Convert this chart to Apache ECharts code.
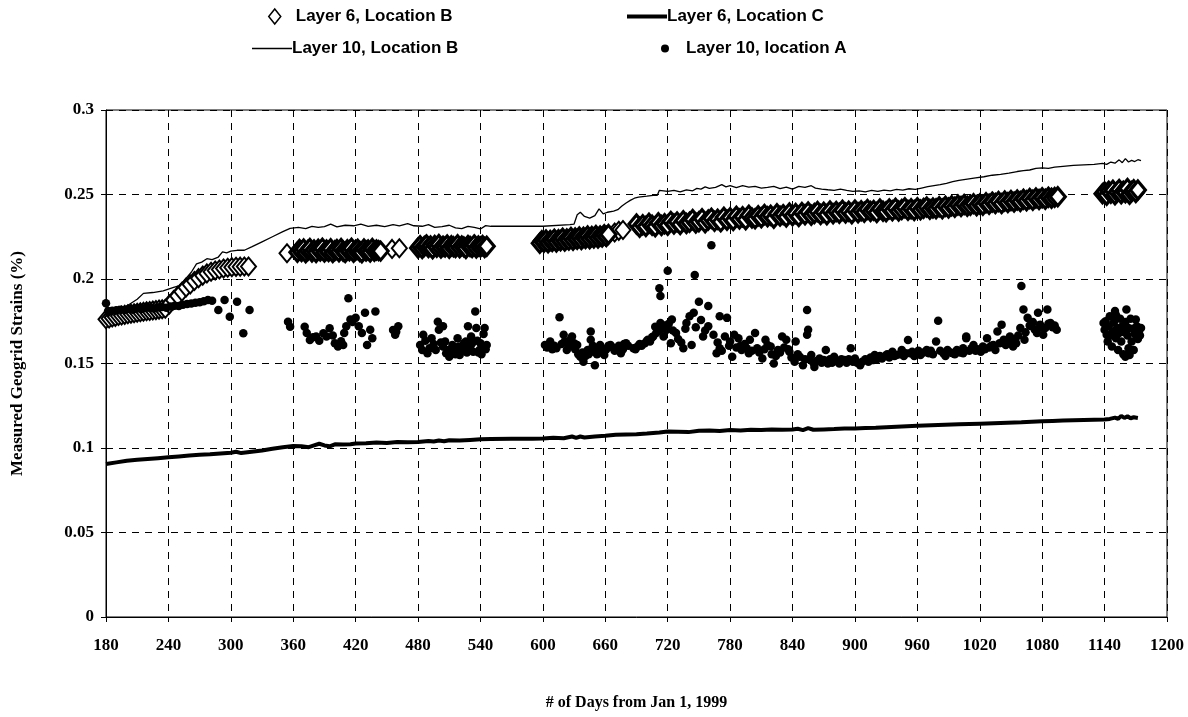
<!DOCTYPE html>
<html>
<head>
<meta charset="utf-8">
<script src="https://cdn.jsdelivr.net/npm/echarts@6/dist/echarts.min.js"></script>
<style>
html,body{margin:0;padding:0;background:#fff;}
#chart{width:1188px;height:717px;}
</style>
</head>
<body>
<div id="chart"></div>
<script>
// ---- tick labels / axis ----
const xTicks = [180,240,300,360,420,480,540,600,660,720,780,840,900,960,1020,1080,1140,1200];
const yTicks = [0,0.05,0.1,0.15,0.2,0.25,0.3];

// ---- Layer 10, Location B (thin line) [day, strain] ----
const layer10B = [
[180,0.178],[190,0.181],[200,0.184],[210,0.188],[216,0.1915],[225,0.192],[235,0.193],[245,0.195],[250,0.196],[255,0.199],
[262,0.204],[267,0.209],[272,0.210],[277,0.212],[282,0.2115],[288,0.213],[292,0.216],[296,0.2155],[300,0.2165],[306,0.217],
[313,0.217],[320,0.219],[330,0.222],[340,0.225],[350,0.228],[357,0.230],[365,0.2305],[372,0.2298],[378,0.2312],[384,0.2305],
[390,0.231],[396,0.2325],[402,0.2308],[410,0.2318],[418,0.2315],[425,0.2325],[432,0.2312],[440,0.2318],[448,0.231],[456,0.2322],
[462,0.2315],[470,0.2328],[476,0.2315],[484,0.2312],[490,0.2322],[496,0.2305],[503,0.231],[510,0.2318],[516,0.2302],[522,0.2298],
[528,0.2312],[534,0.2305],[540,0.2296],[545,0.2316],[550,0.2312],[600,0.2312],[626,0.2322],[630,0.2325],[633,0.238],[636,0.2395],
[640,0.237],[645,0.236],[650,0.2375],[654,0.2415],[658,0.2385],[662,0.2395],[668,0.2402],[672,0.241],[676,0.2432],[680,0.245],
[684,0.2465],[688,0.2478],[692,0.2485],[700,0.249],[706,0.2495],[710,0.2495],[712,0.2525],[716,0.2522],[720,0.2518],[726,0.2524],
[732,0.2516],[738,0.2528],[744,0.2522],[748,0.2536],[752,0.2532],[756,0.2545],[760,0.2536],[766,0.2542],[772,0.2558],[776,0.2545],
[780,0.2552],[786,0.2541],[792,0.2552],[798,0.2544],[804,0.2548],[810,0.2538],[816,0.2542],[822,0.2548],[828,0.2535],[834,0.2544],
[840,0.2532],[846,0.2548],[852,0.2542],[858,0.2552],[862,0.2538],[868,0.2532],[874,0.2528],[880,0.2525],[886,0.2532],[892,0.2524],
[898,0.2518],[904,0.2522],[910,0.2516],[916,0.2524],[922,0.2518],[928,0.2526],[934,0.2522],[940,0.2530],[946,0.2526],[952,0.2534],
[958,0.2530],[964,0.2538],[970,0.2546],[976,0.2552],[982,0.2558],[988,0.2566],[994,0.2576],[1000,0.2584],[1008,0.2591],[1016,0.2598],
[1024,0.2605],[1032,0.2614],[1040,0.2619],[1048,0.2626],[1056,0.2636],[1062,0.2641],[1068,0.2645],[1074,0.2654],[1080,0.2657],[1086,0.2655],
[1092,0.2662],[1100,0.2667],[1110,0.2672],[1120,0.2675],[1130,0.2678],[1138,0.2684],[1142,0.2678],[1146,0.2692],[1150,0.2685],[1154,0.2705],
[1157,0.2688],[1160,0.2712],[1163,0.2692],[1166,0.2702],[1169,0.2695],[1172,0.2706],[1175,0.2700]
];

// ---- Layer 6, Location C (thick line) [day, strain] ----
const layer6C = [
[180,0.0905],[190,0.0915],[200,0.0925],[210,0.0930],[220,0.0935],[230,0.0940],[240,0.0945],[250,0.0950],[260,0.0955],[270,0.0960],
[280,0.0963],[290,0.0968],[300,0.0972],[305,0.0978],[310,0.0970],[320,0.0978],[330,0.0985],[340,0.0995],[350,0.1005],[360,0.1012],
[368,0.1010],[375,0.1005],[380,0.1015],[385,0.1025],[390,0.1015],[395,0.1010],[400,0.1022],[408,0.1020],[415,0.1022],[420,0.1026],
[430,0.1028],[440,0.1032],[450,0.1030],[460,0.1035],[470,0.1034],[480,0.1036],[490,0.1042],[495,0.1038],[500,0.1044],[505,0.1040],
[510,0.1046],[520,0.1044],[530,0.1048],[540,0.1052],[550,0.1053],[570,0.1054],[590,0.1055],[600,0.1056],[610,0.1060],[620,0.1058],
[628,0.1068],[632,0.1060],[636,0.1068],[640,0.1062],[650,0.1068],[660,0.1072],[670,0.1078],[680,0.1080],[690,0.1082],[700,0.1086],
[712,0.1092],[720,0.1098],[730,0.1096],[740,0.1094],[750,0.1102],[760,0.1104],[770,0.1100],[780,0.1106],[790,0.1104],[800,0.1108],
[810,0.1106],[820,0.1110],[830,0.1108],[840,0.1110],[845,0.1114],[850,0.1106],[855,0.1118],[860,0.1108],[870,0.1110],[880,0.1112],
[890,0.1116],[900,0.1116],[910,0.1118],[920,0.1120],[930,0.1123],[940,0.1126],[960,0.1131],[980,0.1136],[1000,0.1140],[1020,0.1144],
[1040,0.1148],[1060,0.1152],[1080,0.1158],[1090,0.1160],[1100,0.1162],[1120,0.1165],[1140,0.1168],[1145,0.1172],[1150,0.1180],[1153,0.1172],
[1156,0.1190],[1159,0.1178],[1162,0.1188],[1165,0.1176],[1168,0.1182],[1172,0.1178]
];

// ---- Layer 6, Location B (open diamonds): runs of readings {first day, day step, strains} ----
const l6bRun1 = {start:180, step:3, vals:[0.1762,0.1766,0.1772,0.1776,0.1781,0.1784,0.1788,0.1791,0.1794,0.1797,0.18,0.1803,0.1806,0.1809,0.1811,0.1814,0.1816,0.1819,0.1821,0.1824]};
const l6bRun2 = {start:241, step:4, vals:[0.185,0.1875,0.19,0.1925,0.195,0.1968,0.1988,0.2005,0.202,0.2033,0.2043,0.205,0.2056,0.2062,0.2067,0.207,0.2072,0.2073,0.2074,0.2074]};
const l6bRun3 = {start:354, step:10, vals:[0.2152]};
const l6bRun4 = {start:364, step:2, vals:[0.2158,0.2174,0.2163,0.2178,0.2155,0.2169,0.2181,0.216,0.2172,0.2157,0.2176,0.2165,0.2182,0.2159,0.2171,0.2162,0.2179,0.2156,0.2168,0.2175,0.2161,0.218,0.2164,0.2157,0.2173,0.2167,0.2182,0.2158,0.217,0.2176,0.2163,0.2155,0.2178,0.2166,0.2172,0.216,0.2181,0.2164,0.2171,0.2168,0.2165]};
const l6bRun5 = {start:455, step:7, vals:[0.2178,0.2182]};
const l6bRun6 = {start:480, step:2, vals:[0.2184,0.2197,0.2181,0.2193,0.2202,0.2186,0.2195,0.2179,0.2199,0.2188,0.2204,0.2183,0.2194,0.2189,0.2201,0.2182,0.2197,0.2191,0.2186,0.2203,0.2185,0.2196,0.219,0.2181,0.2199,0.2192,0.2187,0.2202,0.2184,0.2195,0.2189,0.2198,0.2186,0.2194]};
const l6bRun7 = {start:597, step:2, vals:[0.2212,0.2226,0.2217,0.2231,0.2215,0.2228,0.2222,0.2236,0.2219,0.2233,0.2226,0.2241,0.2224,0.2237,0.223,0.2245,0.2229,0.2243,0.2235,0.2249,0.2233,0.2247,0.2239,0.2254,0.2238,0.2251,0.2243,0.2258,0.2242,0.2255,0.2249,0.2262,0.2252,0.2264]};
const l6bRun8 = {start:669, step:4, vals:[0.2275,0.2285,0.229]};
const l6bRun9 = {start:690, step:3, vals:[
0.2325,0.2306,0.2321,0.2311,0.2330,0.2318,0.2309,0.2333,0.2316,0.2327,
0.2318,0.2341,0.2325,0.2338,0.2322,0.2345,0.2329,0.2336,0.2352,0.2331,
0.2339,0.2356,0.2333,0.2349,0.2360,0.2341,0.2354,0.2338,0.2366,0.2348,
0.2362,0.2346,0.2371,0.2355,0.2368,0.2350,0.2377,0.2361,0.2356,0.2374,
0.2363,0.2382,0.2368,0.2377,0.2360,0.2386,0.2372,0.2381,0.2367,0.2390,
0.2374,0.2388,0.2370,0.2393,0.2380,0.2396,0.2377,0.2387,0.2400,0.2382,
0.2395,0.2380,0.2402,0.2386,0.2399,0.2389,0.2407,0.2390,0.2401,0.2386,
0.2408,0.2392,0.2404,0.2395,0.2412,0.2399,0.2406,0.2393,0.2414,0.2401,
0.2398,0.2415,0.2404,0.2419,0.2402,0.2411,0.2421,0.2406,0.2416,0.2405,
0.2422,0.2409,0.2418,0.2426,0.2412,0.2420,0.2416,0.2428,0.2415,0.2431,
0.2420,0.2433,0.2424,0.2438,0.2429,0.2441,0.2430,0.2436,0.2446,0.2434,
0.2444,0.2436,0.2451,0.2442,0.2455,0.2447,0.2459,0.2446,0.2462,0.2452,
0.2464,0.2455,0.2468,0.2459,0.2472,0.2463,0.2476,0.2466,0.2479,0.2470,
0.2481,0.2472,0.2484,0.2478,0.2483,0.2487]};
const l6bRun10 = {start:1138, step:2, vals:[0.2505,0.2515,0.2495,0.252,0.2508,0.2525,0.2498,0.2515,0.253,0.2505,0.252,0.251,0.2535,0.2502,0.2518,0.2528,0.2512,0.2527]};
// sparse runs (individual diamonds visible) and dense runs (diamonds overlap into a band)
const layer6BSparseRuns = [l6bRun1,l6bRun2,l6bRun3,l6bRun5,l6bRun8];
const layer6BDenseRuns = [l6bRun4,l6bRun6,l6bRun7,l6bRun9,l6bRun10];

// ---- Layer 10, location A (filled dots) [day, strain] ----
const layer10A = [
[180,0.1856],[182,0.181],[186,0.1812],[190,0.1815],[194,0.1818],[198,0.1816],[202,0.1822],[206,0.1818],[210,0.1825],[214,0.1822],
[218,0.1828],[222,0.183],[226,0.1826],[230,0.1832],[234,0.1835],[238,0.183],[242,0.1838],[246,0.1842],[250,0.184],[254,0.1848],
[258,0.1852],[262,0.1855],[266,0.186],[270,0.1862],[274,0.1868],[278,0.1876],[282,0.1872],[288,0.1817],[294,0.1876],[299,0.1777],
[306,0.1866],[312,0.1679],[318,0.1817],
[355,0.1747],[357,0.1718],[371,0.1718],[373,0.168],[376,0.1639],[379,0.1655],[382,0.166],[385,0.1635],[389,0.1679],[392,0.166],
[395,0.1708],[398,0.1665],[400,0.162],[403,0.160],[406,0.1632],[408,0.161],[409,0.168],[411,0.172],[413,0.1886],[415,0.176],
[417,0.1745],[420,0.177],[423,0.172],[426,0.168],[429,0.180],[431,0.161],[434,0.170],[436,0.165],[439,0.1807],
[456,0.1698],[458,0.167],[459,0.1688],[461,0.172],
[482,0.161],[484,0.158],[485,0.167],[487,0.1635],[489,0.156],[491,0.159],[493,0.165],[495,0.1615],[497,0.158],[499,0.1747],
[500,0.170],[502,0.1625],[504,0.172],[504,0.160],[506,0.163],[507,0.156],[509,0.158],[510,0.154],[512,0.1565],[513,0.161],
[515,0.1585],[516,0.1555],[518,0.165],[519,0.160],[520,0.155],[522,0.1575],[523,0.159],[524,0.162],[526,0.163],[527,0.1565],
[528,0.172],[530,0.1595],[531,0.166],[532,0.162],[533,0.157],[535,0.1807],[536,0.171],[537,0.1635],[538,0.1565],[539,0.158],
[540,0.162],[541,0.1555],[542,0.160],[543,0.1675],[544,0.171],[545,0.1585],[546,0.161],
[602,0.161],[604,0.1595],[607,0.163],[609,0.1585],[611,0.1605],[613,0.159],[616,0.1773],[618,0.1615],[620,0.167],[621,0.163],
[623,0.158],[625,0.1605],[627,0.1645],[628,0.166],[630,0.162],[631,0.1585],[633,0.161],[634,0.1555],[636,0.154],[638,0.1565],
[639,0.151],[641,0.1545],[643,0.158],[644,0.1555],[646,0.169],[646,0.164],[648,0.1605],[649,0.157],[650,0.149],[652,0.1555],
[653,0.1585],[655,0.161],[656,0.1595],[657,0.1565],[659,0.155],[661,0.1585],[663,0.1605],[665,0.161],[667,0.1595],[669,0.1575],
[672,0.159],[673,0.1605],[675,0.156],[677,0.1585],[678,0.1615],[680,0.162],[682,0.1605],[687,0.159],[689,0.1585],[691,0.160],
[693,0.1615],[695,0.1605],[698,0.162],[700,0.1635],[701,0.164],[703,0.163],[705,0.1655],[706,0.166],[708,0.1718],[709,0.168],
[711,0.1695],[712,0.1945],[713,0.190],[713,0.174],[715,0.1705],[716,0.166],[717,0.1725],[719,0.170],[720,0.2049],[721,0.1735],
[723,0.162],[724,0.176],[725,0.1695],
[728,0.168],[730,0.1645],[733,0.1625],[735,0.159],[737,0.1705],[738,0.174],[741,0.178],[743,0.161],[745,0.180],[746,0.2024],
[747,0.1715],[750,0.1866],[752,0.1758],[754,0.166],[756,0.1695],[759,0.184],[759,0.172],[762,0.220],[764,0.167],[767,0.156],
[768,0.1625],[770,0.178],[770,0.159],[772,0.1575],[775,0.166],[777,0.177],[779,0.1605],[780,0.163],[782,0.154],[784,0.167],
[786,0.1595],[788,0.165],[790,0.1605],[791,0.158],[794,0.1615],[796,0.159],[798,0.156],[799,0.164],[801,0.1575],[804,0.168],
[806,0.159],[808,0.1565],[811,0.153],[813,0.1585],[814,0.164],[816,0.161],[819,0.160],[820,0.1555],[822,0.150],[824,0.1545],
[826,0.158],[828,0.1565],[830,0.166],[832,0.1595],[834,0.164],[836,0.1585],[837,0.157],[839,0.1535],[842,0.151],[843,0.163],
[845,0.1555],[847,0.154],[850,0.149],[852,0.1525],[854,0.167],[855,0.170],[854,0.1817],[856,0.1525],[858,0.155],[860,0.1505],
[861,0.148],[863,0.1515],[866,0.153],[868,0.1505],[870,0.152],[872,0.158],[873,0.151],[874,0.150],[876,0.1525],[878,0.1505],
[880,0.154],[882,0.1515],[885,0.150],[887,0.1525],[890,0.152],[892,0.1505],[894,0.1525],[896,0.159],[898,0.151],[900,0.153],
[902,0.1505],[905,0.149],[907,0.151],[910,0.1525],[913,0.151],[915,0.1535],[917,0.152],[919,0.155],[921,0.1525],[924,0.1545],
[926,0.153],[929,0.1545],[931,0.1555],[933,0.1535],[936,0.157],[938,0.1545],[940,0.155],[943,0.1555],[945,0.158],[947,0.1545],
[949,0.156],[951,0.1639],[953,0.156],[955,0.157],[957,0.1545],[959,0.156],[961,0.1575],[963,0.155],[966,0.1565],[969,0.158],
[971,0.156],[973,0.1575],[975,0.1555],[978,0.163],[980,0.1753],[982,0.1575],[985,0.156],[987,0.1545],[989,0.158],[992,0.1565],
[994,0.156],[996,0.1555],[998,0.158],[1001,0.1565],[1004,0.159],[1004,0.156],[1007,0.166],[1007,0.165],
[1010,0.1575],[1012,0.159],[1014,0.161],[1016,0.1575],[1018,0.1585],[1021,0.157],[1023,0.16],[1025,0.1585],[1027,0.165],[1029,0.1595],
[1031,0.1605],[1033,0.161],[1035,0.158],[1037,0.169],[1039,0.162],[1041,0.173],[1043,0.164],[1045,0.161],[1047,0.1635],[1049,0.166],
[1051,0.1625],[1052,0.160],[1054,0.1645],[1055,0.162],[1057,0.1665],[1059,0.171],[1060,0.1959],[1062,0.182],[1063,0.164],[1064,0.1685],
[1066,0.177],[1068,0.1725],[1070,0.172],[1071,0.1745],[1073,0.170],[1075,0.168],[1076,0.180],[1078,0.173],[1079,0.1715],[1081,0.167],
[1083,0.171],[1085,0.182],[1086,0.1735],[1088,0.174],[1090,0.1715],[1092,0.1725],[1094,0.170],
[1139,0.174],[1140,0.170],[1141,0.175],[1142,0.167],[1143,0.163],[1144,0.172],[1145,0.178],[1146,0.1665],[1147,0.160],[1148,0.169],
[1149,0.1745],[1150,0.181],[1151,0.1785],[1151,0.165],[1152,0.171],[1153,0.158],[1154,0.168],[1155,0.1765],[1156,0.163],[1157,0.172],
[1158,0.1555],[1159,0.1685],[1160,0.154],[1160,0.1745],[1161,0.182],[1162,0.1665],[1163,0.159],[1163,0.171],[1164,0.155],[1165,0.1765],
[1166,0.163],[1167,0.1705],[1168,0.158],[1169,0.1675],[1170,0.176],[1171,0.172],[1172,0.1645],[1173,0.169],[1174,0.1665],[1175,0.171]
];

// ---- build ----
function runsToPoints(runs) {
  const out = [];
  runs.forEach(r => r.vals.forEach((v, i) => out.push([r.start + i * r.step, v])));
  return out;
}
const layer6BSparse = runsToPoints(layer6BSparseRuns);
const layer6BDense = runsToPoints(layer6BDenseRuns);

const SERIF = '"Liberation Serif", "Times New Roman", serif';
const SANS = '"Liberation Sans", Arial, sans-serif';
const legendText = {fontFamily: SANS, fontWeight: 'bold', fontSize: 17, color: '#000'};
const NAME_6B = 'Layer 6, Location B';

const chart = echarts.init(document.getElementById('chart'), null, {renderer: 'canvas'});
chart.setOption({
  animation: false,
  backgroundColor: '#fff',
  grid: {left: 106, right: 21, top: 110, bottom: 100, show: true, borderColor: '#000', borderWidth: 1},
  legend: [
    {data: [{name: NAME_6B, icon: 'diamond'}], left: 263, top: 3, itemWidth: 12, itemHeight: 15, itemGap: 0,
     itemStyle: {color: '#fff', borderColor: '#000', borderWidth: 1.5},
     textStyle: Object.assign({padding: [0, 0, 0, 10]}, legendText)},
    {data: [{name: 'Layer 6, Location C', icon: 'rect'}], left: 622, top: 3, itemWidth: 40, itemHeight: 4, itemGap: 0,
     textStyle: Object.assign({padding: [0, 0, 0, -5]}, legendText)},
    {data: [{name: 'Layer 10, Location B', icon: 'rect'}], left: 247, top: 35, itemWidth: 40, itemHeight: 1.5, itemGap: 0,
     textStyle: Object.assign({padding: [0, 0, 0, -5]}, legendText)},
    {data: [{name: 'Layer 10, location A', icon: 'circle'}], left: 656, top: 35, itemWidth: 8, itemHeight: 8, itemGap: 0,
     textStyle: Object.assign({padding: [0, 0, 0, 12]}, legendText)}
  ],
  xAxis: {
    type: 'value', min: xTicks[0], max: xTicks[xTicks.length - 1], interval: 60,
    name: '# of Days from Jan 1, 1999', nameLocation: 'middle', nameGap: 78,
    nameTextStyle: {fontFamily: SERIF, fontWeight: 'bold', fontSize: 16, color: '#000'},
    axisLine: {onZero: false, lineStyle: {color: '#000', width: 1}},
    axisTick: {show: true, inside: false, length: 5, lineStyle: {color: '#000'}},
    axisLabel: {margin: 20, fontFamily: SERIF, fontWeight: 'bold', fontSize: 17, color: '#000',
      formatter: v => String(v)},
    splitLine: {show: true, lineStyle: {color: '#000', width: 1, type: [7, 6]}}
  },
  yAxis: {
    type: 'value', min: yTicks[0], max: yTicks[yTicks.length - 1], interval: 0.05,
    name: 'Measured Geogrid Strains (%)', nameLocation: 'middle', nameGap: 80,
    nameTextStyle: {fontFamily: SERIF, fontWeight: 'bold', fontSize: 17, color: '#000'},
    axisLine: {show: true, lineStyle: {color: '#000', width: 1}},
    axisTick: {show: true, inside: false, length: 5, lineStyle: {color: '#000'}},
    axisLabel: {margin: 12, fontFamily: SERIF, fontWeight: 'bold', fontSize: 17, color: '#000',
      formatter: v => String(+v.toFixed(2))},
    splitLine: {show: true, lineStyle: {color: '#000', width: 1, type: [7, 6]}}
  },
  series: [
    {name: NAME_6B, type: 'scatter', data: layer6BSparse, symbol: 'diamond', symbolSize: [15, 18],
     itemStyle: {color: '#fff', borderColor: '#000', borderWidth: 2, opacity: 1}, z: 2},
    {name: NAME_6B, type: 'scatter', data: layer6BDense, symbol: 'diamond', symbolSize: [15, 18],
     itemStyle: {color: '#fff', borderColor: '#000', borderWidth: 3.2, opacity: 1}, z: 2},
    {name: 'Layer 6, Location C', type: 'line', data: layer6C, showSymbol: false, symbol: 'none',
     lineStyle: {color: '#000', width: 4}, itemStyle: {color: '#000'}, z: 3},
    {name: 'Layer 10, Location B', type: 'line', data: layer10B, showSymbol: false, symbol: 'none',
     lineStyle: {color: '#000', width: 1.3}, itemStyle: {color: '#000'}, z: 4},
    {name: 'Layer 10, location A', type: 'scatter', data: layer10A, symbol: 'circle', symbolSize: 8.5,
     itemStyle: {color: '#000', opacity: 1}, z: 5}
  ]
});
</script>
</body>
</html>
